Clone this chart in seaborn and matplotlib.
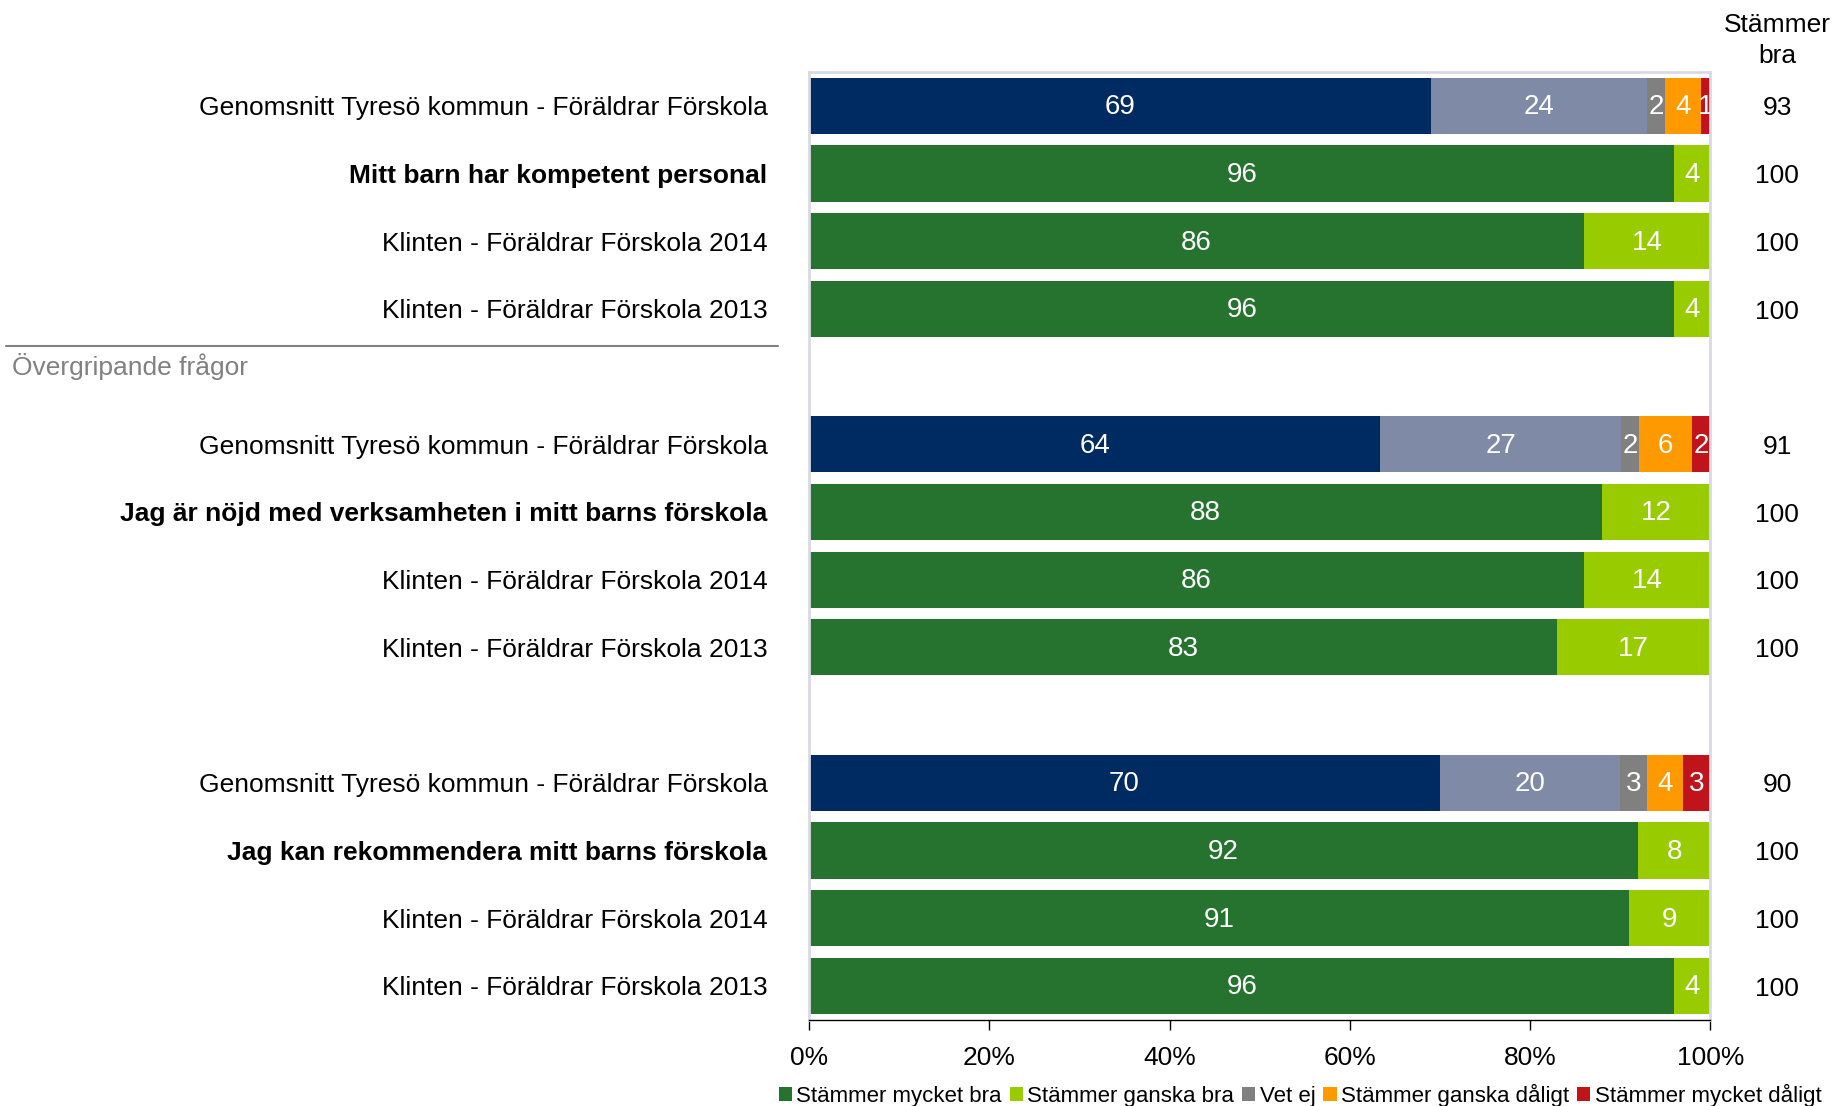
import matplotlib
matplotlib.use("Agg")
import matplotlib.pyplot as plt
from matplotlib.patches import Patch
import seaborn as sns
import pandas as pd
import numpy as np

sns.set_theme(style="white")
plt.rcParams['font.family'] = ['Liberation Sans', 'DejaVu Sans']
plt.rcParams['text.color'] = 'black'
plt.rcParams['xtick.color'] = 'black'
plt.rcParams['ytick.color'] = 'black'
plt.rcParams['axes.labelcolor'] = 'black'

# ---------------- data ----------------
row_labels = [
    "Genomsnitt Tyresö kommun - Föräldrar Förskola",
    "Mitt barn har kompetent personal",
    "Klinten - Föräldrar Förskola 2014",
    "Klinten - Föräldrar Förskola 2013",
    "Genomsnitt Tyresö kommun - Föräldrar Förskola",
    "Jag är nöjd med verksamheten i mitt barns förskola",
    "Klinten - Föräldrar Förskola 2014",
    "Klinten - Föräldrar Förskola 2013",
    "Genomsnitt Tyresö kommun - Föräldrar Förskola",
    "Jag kan rekommendera mitt barns förskola",
    "Klinten - Föräldrar Förskola 2014",
    "Klinten - Föräldrar Förskola 2013",
]
row_bold = [False, True, False, False, False, True, False, False, False, True, False, False]
row_is_avg = [True, False, False, False, True, False, False, False, True, False, False, False]
row_slots = [0, 1, 2, 3, 5, 6, 7, 8, 10, 11, 12, 13]

series = ["Stämmer mycket bra", "Stämmer ganska bra", "Vet ej",
          "Stämmer ganska dåligt", "Stämmer mycket dåligt"]
mycket_bra = [69, 96, 86, 96, 64, 88, 86, 83, 70, 92, 91, 96]
ganska_bra = [24, 4, 14, 4, 27, 12, 14, 17, 20, 8, 9, 4]
vet_ej = [2, 0, 0, 0, 2, 0, 0, 0, 3, 0, 0, 0]
ganska_daligt = [4, 0, 0, 0, 6, 0, 0, 0, 4, 0, 0, 0]
mycket_daligt = [1, 0, 0, 0, 2, 0, 0, 0, 3, 0, 0, 0]
stammer_bra = [93, 100, 100, 100, 91, 100, 100, 100, 90, 100, 100, 100]

x_ticks = [0, 20, 40, 60, 80, 100]
section_label = "Övergripande frågor"
right_header = "Stämmer\nbra"

# ---------------- styling ----------------
colors_main = ["#267330", "#99CC00", "#808080", "#FF9900", "#C0141A"]
colors_avg = ["#002B62", "#7F8AA6", "#808080", "#FF9900", "#C0141A"]
bar_w = 0.83
fs = 19

vals = np.array([mycket_bra, ganska_bra, vet_ej, ganska_daligt, mycket_daligt], dtype=float).T
pct = vals / vals.sum(axis=1, keepdims=True) * 100
lefts = np.cumsum(pct, axis=1) - pct

rows = []
for i in range(len(row_labels)):
    for k in range(len(series)):
        if vals[i, k] > 0:
            rows.append(dict(pos=row_slots[i], seg=k, avg=row_is_avg[i],
                             value=pct[i, k], left=lefts[i, k], raw=int(vals[i, k])))
df = pd.DataFrame(rows)

fig = plt.figure(figsize=(18.39, 11.06), dpi=100)
ax = fig.add_axes([0.440, 0.078, 0.490, 0.857])

for avg_flag in [False, True]:
    pal = colors_avg if avg_flag else colors_main
    for k in range(len(series)):
        sub = df[(df.seg == k) & (df.avg == avg_flag)].sort_values("pos")
        if sub.empty:
            continue
        u = np.unique(sub["pos"].to_numpy())
        spacing = np.diff(u).min() if len(u) > 1 else 1
        sns.barplot(data=sub, x="value", y="pos", orient="y", native_scale=True,
                    color=pal[k], saturation=1, width=bar_w / spacing, errorbar=None,
                    left=sub["left"].to_numpy(), linewidth=0, ax=ax)

for _, r in df.iterrows():
    ax.text(r.left + r.value / 2, r.pos + 0.02, str(r.raw), ha="center", va="center",
            color="white", fontsize=20, clip_on=True)

ax.set_xlim(0, 100)
ax.set_ylim(13.5, -0.5)
ax.set_xticks(x_ticks)
ax.set_xticklabels([f"{t}%" for t in x_ticks], fontsize=fs)
ax.set_yticks(row_slots)
ax.set_yticklabels(row_labels, fontsize=fs)
for lbl, b in zip(ax.get_yticklabels(), row_bold):
    if b:
        lbl.set_fontweight("bold")
ax.tick_params(axis="y", length=0, pad=30)
ax.tick_params(axis="x", length=7, width=1, color="black", direction="out", pad=12,
               bottom=True)
ax.set_xlabel("")
ax.set_ylabel("")
for s in ["left", "top", "right"]:
    ax.spines[s].set_color("#D9D9E6")
    ax.spines[s].set_linewidth(2)
ax.spines["bottom"].set_color("black")
ax.spines["bottom"].set_linewidth(1)

# right column
xr = 1.074
ax.text(xr, 1.033, right_header, transform=ax.transAxes, ha="center", va="center",
        fontsize=fs, linespacing=1.35)
for p, v in zip(row_slots, stammer_bra):
    ax.text(xr, p + 0.04, str(v), transform=ax.get_yaxis_transform(), ha="center",
            va="center", fontsize=fs)

# section separator
fig.add_artist(plt.Line2D([6 / 1839, 778 / 1839], [1 - 346 / 1106, 1 - 346 / 1106],
                          color="#808080", lw=1.5))
fig.text(12 / 1839, 1 - 366 / 1106, section_label, ha="left", va="center",
         fontsize=fs, color="#808080")

handles = [Patch(facecolor=c, edgecolor="none") for c in colors_main]
fig.legend(handles, series, loc="lower right", bbox_to_anchor=(0.999, -0.015), ncol=5,
           frameon=False, fontsize=16, handlelength=0.6, handleheight=0.6,
           handletextpad=0.2, columnspacing=0.35, borderpad=0.2)

fig.savefig("out.png", dpi=100)
